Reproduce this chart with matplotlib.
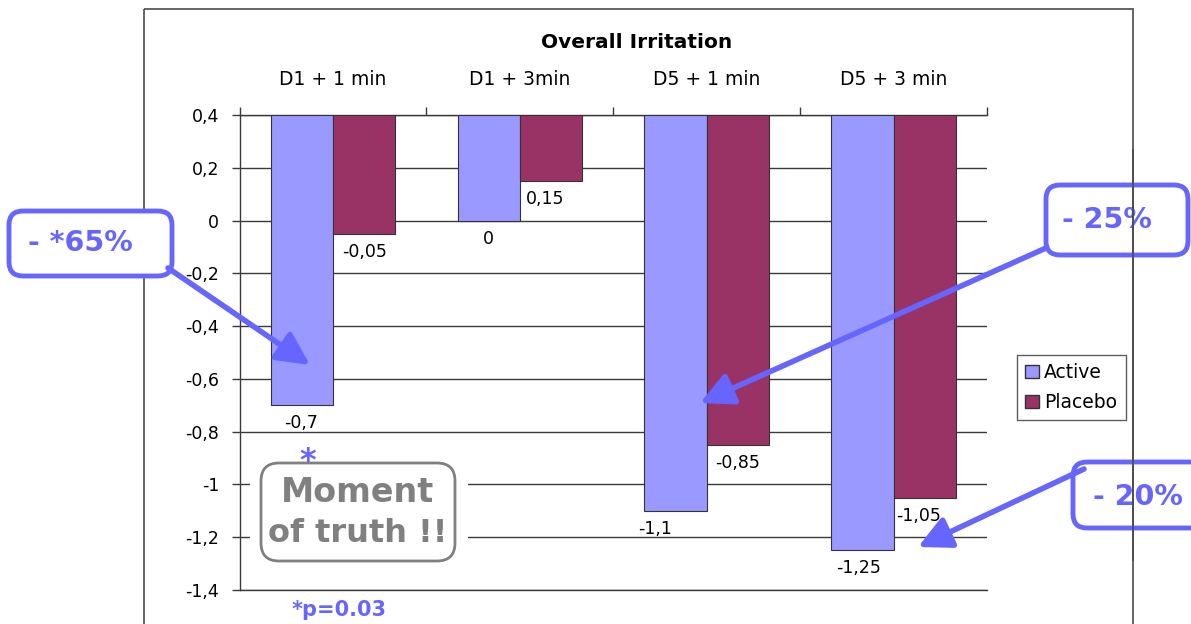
import matplotlib.pyplot as plt
from matplotlib.patches import FancyBboxPatch, FancyArrowPatch, Rectangle, Patch

plt.rcParams['font.family'] = ['DejaVu Sans']

# data
categories = ['D1 + 1 min', 'D1 + 3min', 'D5 + 1 min', 'D5 + 3 min']
active = [-0.7, 0.0, -1.1, -1.25]
placebo = [-0.05, 0.15, -0.85, -1.05]
active_labels = ['-0,7', '0', '-1,1', '-1,25']
placebo_labels = ['-0,05', '0,15', '-0,85', '-1,05']
yticks = [0.4, 0.2, 0, -0.2, -0.4, -0.6, -0.8, -1, -1.2, -1.4]
ytick_labels = ['0,4', '0,2', '0', '-0,2', '-0,4', '-0,6', '-0,8', '-1', '-1,2', '-1,4']
baseline = 0.4

# small horizontal nudges (pixels) of the value labels, as placed in the original
active_dx = [-1, 0, -20, -4]
placebo_dx = [0, -6, 0, -6]

W, H = 1191, 624
c_active = '#9999FF'
c_placebo = '#993366'
c_blue = '#6666FF'
c_grid = '#3a3a3a'

fig = plt.figure(figsize=(W / 100, H / 100), dpi=100)
fig.patch.set_facecolor('white')

ax = fig.add_axes([239.5 / W, 34 / H, (987 - 239.5) / W, 475 / H])
ax.set_xlim(-0.5, 3.5)
ax.set_ylim(-1.4, 0.4)

w = 1 / 3
for i in range(len(categories)):
    ax.bar(i - w / 2, active[i] - baseline, bottom=baseline, width=w,
           color=c_active, edgecolor='#333333', linewidth=0.8, zorder=3)
    ax.bar(i + w / 2, placebo[i] - baseline, bottom=baseline, width=w,
           color=c_placebo, edgecolor='#333333', linewidth=0.8, zorder=3)
    ax.annotate(active_labels[i], (i - w / 2, active[i]), xytext=(active_dx[i], -18),
                textcoords='offset pixels', ha='center', va='center', fontsize=12.5)
    ax.annotate(placebo_labels[i], (i + w / 2, placebo[i]), xytext=(placebo_dx[i], -18),
                textcoords='offset pixels', ha='center', va='center', fontsize=12.5)

ax.set_yticks(yticks)
ax.set_yticklabels(ytick_labels, fontsize=12.5)
ax.yaxis.grid(True, color=c_grid, linewidth=1, zorder=0)
ax.set_axisbelow(True)
ax.tick_params(axis='y', direction='out', length=6, width=1, color=c_grid, pad=8.5)

ax.xaxis.tick_top()
ax.set_xticks([-0.5, 0.5, 1.5, 2.5, 3.5])
ax.set_xticklabels([])
ax.tick_params(axis='x', which='major', direction='out', length=6, width=1, color=c_grid)
ax.set_xticks(range(len(categories)), minor=True)
ax.set_xticklabels(categories, minor=True, fontsize=13.5)
ax.tick_params(axis='x', which='minor', length=0, pad=19)

for s in ['left', 'top', 'bottom']:
    ax.spines[s].set_color(c_grid)
    ax.spines[s].set_linewidth(1)
ax.spines['right'].set_visible(False)

handles = [Patch(facecolor=c_active, edgecolor='#333333', label='Active'),
           Patch(facecolor=c_placebo, edgecolor='#333333', label='Placebo')]
fig.legend(handles=handles, loc='upper left', bbox_to_anchor=(1017 / W, 1 - 355 / H),
           fontsize=13.5, frameon=True, fancybox=False, edgecolor='#333333',
           handlelength=0.7, handleheight=0.7, handletextpad=0.3, borderpad=0.45,
           labelspacing=0.55, borderaxespad=0)

# overlay in pixel coordinates for title, frame and callouts
ov = fig.add_axes([0, 0, 1, 1])
ov.set_xlim(0, W)
ov.set_ylim(H, 0)
ov.axis('off')

ov.add_patch(Rectangle((144, 9), 989, 700, fill=False, edgecolor='#4a4a4a', linewidth=1.2, zorder=1))
ov.text(637, 43, 'Overall Irritation', ha='center', va='center', fontsize=14.5, fontweight='bold')

# moment of truth box
ov.add_patch(Rectangle((250, 468), 218, 90, facecolor='white', edgecolor='none'))
ov.add_patch(FancyBboxPatch((270, 472), 176, 80, boxstyle='round,pad=9,rounding_size=18',
                            facecolor='white', edgecolor='#808080', linewidth=2))
ov.text(358, 493, 'Moment', ha='center', va='center', fontsize=24, fontweight='bold', color='#808080')
ov.text(358, 533, 'of truth !!', ha='center', va='center', fontsize=23, fontweight='bold', color='#808080')
ov.text(308, 462, '*', ha='center', va='center', fontsize=23, fontweight='bold', color=c_blue)
ov.text(339, 610, '*p=0.03', ha='center', va='center', fontsize=15, fontweight='bold', color=c_blue)

# percentage callouts: box, text, arrow start, arrow tip, box fill
callouts = [
    ((17, 219), 147, 49, '- *65%', (80, 243), (168, 268), (310, 365), 'white'),
    ((1054, 193), 126, 54, '- 25%', (1107, 220), (1046, 248), (700, 403), 'none'),
    ((1081, 470), 130, 50, '- 20%', (1138, 497), (1084, 469), (918, 547), 'none'),
]
for (x0, y0), bw, bh, txt, tpos, start, end, fc in callouts:
    ov.add_patch(FancyBboxPatch((x0, y0), bw, bh, boxstyle='round,pad=8,rounding_size=14',
                                facecolor=fc, edgecolor=c_blue, linewidth=3.5, zorder=2))
    ov.text(tpos[0], tpos[1], txt, ha='center', va='center', fontsize=20.5,
            fontweight='bold', color=c_blue, zorder=3)
    ov.add_patch(FancyArrowPatch(start, end, arrowstyle='-|>,head_length=0.9,head_width=0.45',
                                 mutation_scale=22, color=c_blue, linewidth=4, zorder=4,
                                 shrinkA=0, shrinkB=0))

# the right frame edge shows through the open callout boxes
ov.plot([1133, 1133], [150, 560], color='#4a4a4a', linewidth=1.2, zorder=3.5)

fig.savefig('out.png', dpi=100)
